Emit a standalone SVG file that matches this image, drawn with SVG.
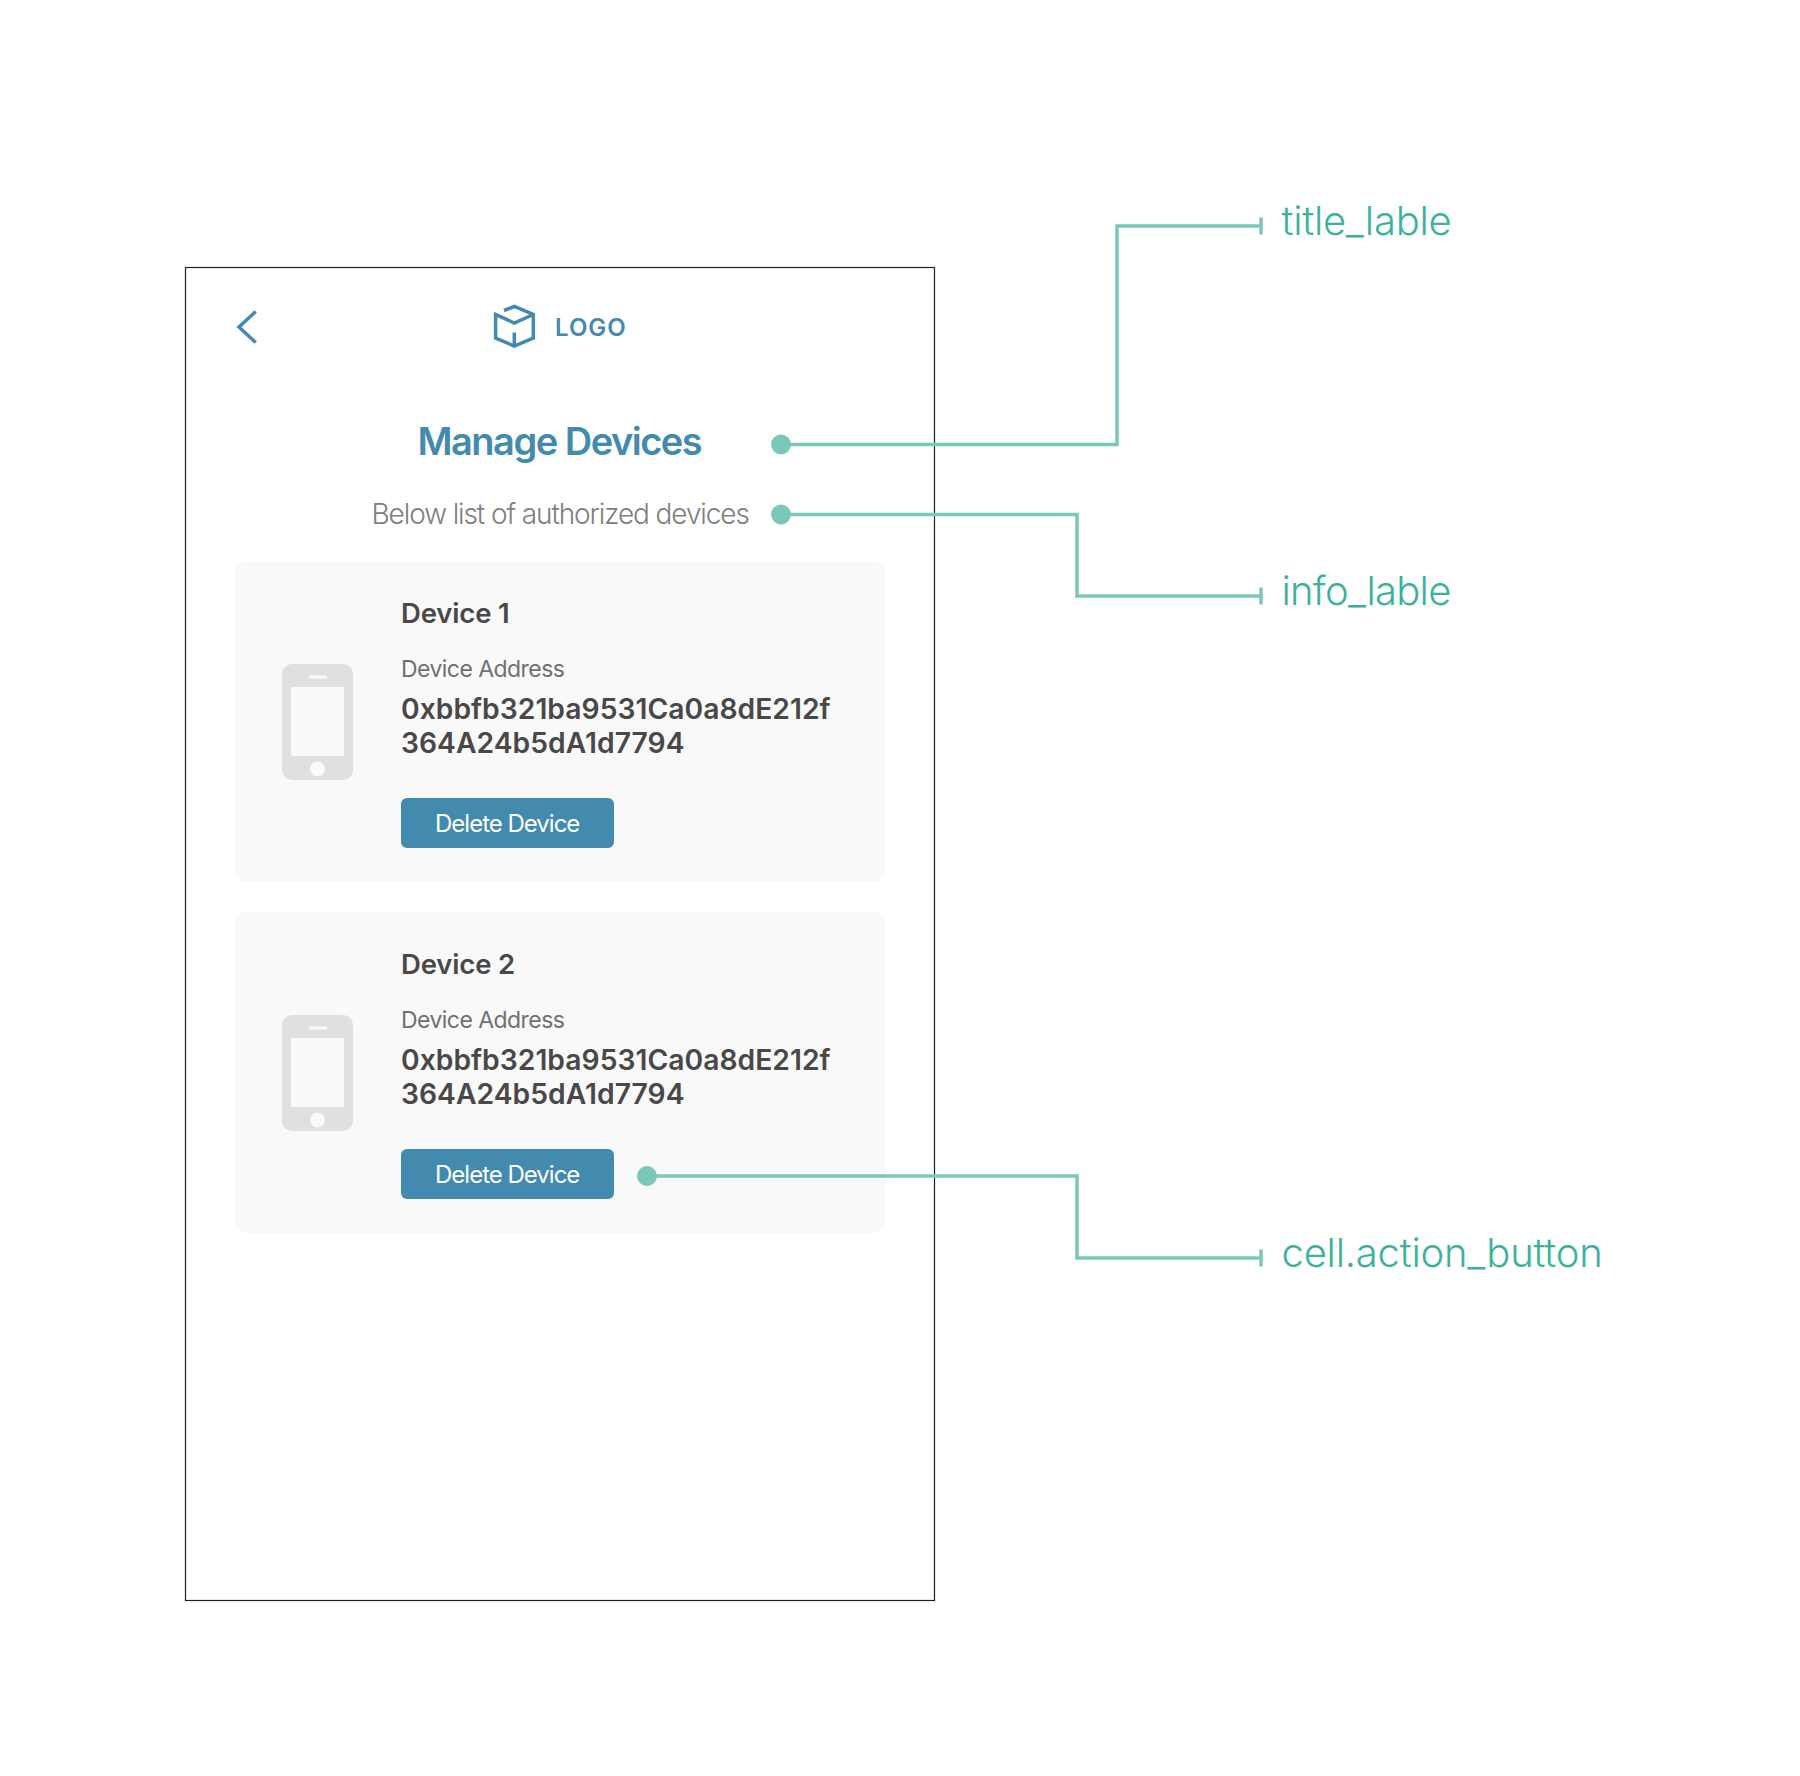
<svg xmlns="http://www.w3.org/2000/svg" width="1800" height="1776" viewBox="0 0 1800 1776">
<style>
text{font-family:Inter,"Liberation Sans",sans-serif}
.conn{fill:none;stroke:#7cc8b8;stroke-width:3.5}
.dot{fill:#7cc8b8}
.lbl{font-size:40px;fill:#3eb19a;font-weight:350}
.card{fill:#f9f9f9}
.ph{fill:#e0e0e0}
.btn{fill:#428bae}
.btxt{font-size:24px;fill:#fff;text-anchor:middle;letter-spacing:-1px}
.dn{font-size:27.5px;font-weight:600;fill:#484848;letter-spacing:-.15px}
.da{font-size:23px;fill:#707070;letter-spacing:-.55px}
.ad{font-size:28.25px;font-weight:600;fill:#484848;letter-spacing:.03px}
.ic{fill:none;stroke:#428bae;stroke-width:3.5}
</style>
<rect id="screen" x="185.5" y="267.5" width="749" height="1333" fill="#fff" stroke="#222" stroke-width="1.2"/>
<g id="header">
<path class="ic" d="M255.7 311.5L239 327L255.7 342.5"/>
<path class="ic" d="M504 310.5L514.3 306.5L533.3 314.5V338L514.3 346L495.6 338V314.5L514.3 323L533.3 314.5M514.3 332.5V346"/>
<text x="555" y="335.5" font-size="24" font-weight="600" fill="#428bae" letter-spacing="1">LOGO</text>
</g>
<text id="title" x="417.5" y="454.5" font-size="38" font-weight="600" fill="#428bae" letter-spacing="-1.5">Manage Devices</text>
<text id="info" x="371.5" y="523.5" font-size="28" font-weight="300" fill="#808080" letter-spacing="-1.1">Below list of authorized devices</text>
<g id="card1">
<rect class="card" x="235" y="561" width="650" height="321" rx="12"/>
<rect class="ph" x="282" y="664" width="71" height="116" rx="10"/>
<rect class="card" x="291" y="687" width="53" height="69" rx="1"/>
<rect class="card" x="309" y="675.5" width="18" height="3"/>
<circle class="card" cx="317.5" cy="769" r="7.5"/>
<text class="dn" x="401" y="622.5">Device 1</text>
<text class="da" x="401" y="676.5">Device Address</text>
<text class="ad" x="401" y="718.5">0xbbfb321ba9531Ca0a8dE212f</text>
<text class="ad" x="401" y="752.5">364A24b5dA1d7794</text>
<rect class="btn" x="401" y="798" width="213" height="50" rx="6"/>
<text class="btxt" x="507.2" y="832">Delete Device</text>
</g>
<g id="card2" transform="translate(0 351)">
<rect class="card" x="235" y="561" width="650" height="321" rx="12"/>
<rect class="ph" x="282" y="664" width="71" height="116" rx="10"/>
<rect class="card" x="291" y="687" width="53" height="69" rx="1"/>
<rect class="card" x="309" y="675.5" width="18" height="3"/>
<circle class="card" cx="317.5" cy="769" r="7.5"/>
<text class="dn" x="401" y="622.5">Device 2</text>
<text class="da" x="401" y="676.5">Device Address</text>
<text class="ad" x="401" y="718.5">0xbbfb321ba9531Ca0a8dE212f</text>
<text class="ad" x="401" y="752.5">364A24b5dA1d7794</text>
<rect class="btn" x="401" y="798" width="213" height="50" rx="6"/>
<text class="btxt" x="507.2" y="832">Delete Device</text>
</g>
<g id="connectors">
<path class="conn" d="M781 444.5H1117V226H1261M1261 217.5V234.5"/>
<path class="conn" d="M781 514.5H1077V596H1261M1261 587.5V604.5"/>
<path class="conn" d="M647 1176H1077V1258H1261M1261 1249.5V1266.5"/>
<circle class="dot" cx="781" cy="444.5" r="10"/>
<circle class="dot" cx="781" cy="514.5" r="10"/>
<circle class="dot" cx="647" cy="1176" r="10"/>
</g>
<text id="l1" class="lbl" x="1281.5" y="235" letter-spacing="-.27">title_lable</text>
<text id="l2" class="lbl" x="1281.5" y="605" letter-spacing="-.75">info_lable</text>
<text id="l3" class="lbl" x="1281.5" y="1266.5" letter-spacing="-.23">cell.action_button</text>
</svg>
